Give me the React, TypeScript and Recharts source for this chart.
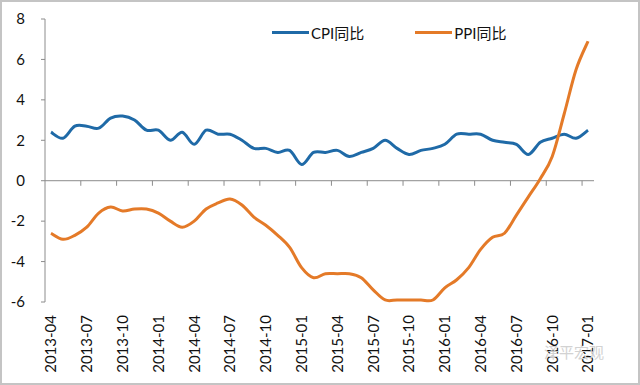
import { LineChart, Line, XAxis, YAxis, ReferenceLine } from 'recharts'

const months = [
  '2013-04', '2013-05', '2013-06', '2013-07', '2013-08', '2013-09', '2013-10', '2013-11', '2013-12',
  '2014-01', '2014-02', '2014-03', '2014-04', '2014-05', '2014-06', '2014-07', '2014-08', '2014-09',
  '2014-10', '2014-11', '2014-12', '2015-01', '2015-02', '2015-03', '2015-04', '2015-05', '2015-06',
  '2015-07', '2015-08', '2015-09', '2015-10', '2015-11', '2015-12', '2016-01', '2016-02', '2016-03',
  '2016-04', '2016-05', '2016-06', '2016-07', '2016-08', '2016-09', '2016-10', '2016-11', '2016-12',
  '2017-01',
]

const cpi = [
  2.4, 2.1, 2.7, 2.7, 2.6, 3.1, 3.2, 3.0, 2.5,
  2.5, 2.0, 2.4, 1.8, 2.5, 2.3, 2.3, 2.0, 1.6,
  1.6, 1.4, 1.5, 0.8, 1.4, 1.4, 1.5, 1.2, 1.4,
  1.6, 2.0, 1.6, 1.3, 1.5, 1.6, 1.8, 2.3, 2.3,
  2.3, 2.0, 1.9, 1.8, 1.3, 1.9, 2.1, 2.3, 2.1,
  2.5,
]

const ppi = [
  -2.6, -2.9, -2.7, -2.3, -1.6, -1.3, -1.5, -1.4, -1.4,
  -1.6, -2.0, -2.3, -2.0, -1.4, -1.1, -0.9, -1.2, -1.8,
  -2.2, -2.7, -3.3, -4.3, -4.8, -4.6, -4.6, -4.6, -4.8,
  -5.4, -5.9, -5.9, -5.9, -5.9, -5.9, -5.3, -4.9, -4.3,
  -3.4, -2.8, -2.6, -1.7, -0.8, 0.1, 1.2, 3.3, 5.5,
  6.9,
]

const yTicks = [-6, -4, -2, 0, 2, 4, 6, 8]

const series = [
  { key: 'cpi', name: 'CPI同比', color: '#1f6aa7' },
  { key: 'ppi', name: 'PPI同比', color: '#e47a28' },
]

const data = months.map((m, i) => ({ i, month: m, cpi: cpi[i], ppi: ppi[i] }))
const labelTicks = months.map((_, i) => i).filter((i) => i % 3 === 0)
const markTicks = months.map((_, i) => i).filter((i) => i > 0 && i % 3 === 0).map((i) => i - 0.5)

const FONT = "Lato, 'Noto Sans CJK SC', sans-serif"

// spreadsheet-style smoothed line (Catmull-Rom through every point)
const smoothCurve = (ctx: any) => {
  let pts: number[][] = []
  return {
    areaStart() {},
    areaEnd() {},
    lineStart() {
      pts = []
    },
    point(x: number, y: number) {
      pts.push([+x, +y])
    },
    lineEnd() {
      if (!pts.length) return
      ctx.moveTo(pts[0][0], pts[0][1])
      for (let i = 0; i < pts.length - 1; i++) {
        const p0 = pts[i - 1] || pts[i]
        const p1 = pts[i]
        const p2 = pts[i + 1]
        const p3 = pts[i + 2] || p2
        ctx.bezierCurveTo(
          p1[0] + (p2[0] - p0[0]) / 6,
          p1[1] + (p2[1] - p0[1]) / 6,
          p2[0] - (p3[0] - p1[0]) / 6,
          p2[1] - (p3[1] - p1[1]) / 6,
          p2[0],
          p2[1],
        )
      }
    },
  }
}

const MonthTick = (props: any) => {
  const { x, y, payload } = props
  return (
    <g transform={`translate(${x},${y})`}>
      <text
        transform="rotate(-90)"
        x={-5}
        y={0}
        dy="0.36em"
        textAnchor="end"
        fontSize={15}
        fontFamily={FONT}
        fill="#111"
      >
        {months[payload.value]}
      </text>
    </g>
  )
}

export default function App() {
  return (
    <div style={{ position: 'absolute', left: 0, top: 0, width: 640, height: 385, background: '#fff', fontFamily: FONT }}>
      <LineChart width={640} height={385} data={data} margin={{ top: 19, right: 46, bottom: 5, left: 0 }}>
        <XAxis
          type="number"
          dataKey="i"
          domain={[-0.5, 45.5]}
          ticks={labelTicks}
          interval={0}
          axisLine={false}
          tickLine={false}
          tick={<MonthTick />}
          height={78}
        />
        <YAxis
          domain={[-6, 8]}
          ticks={yTicks}
          width={45}
          axisLine={{ stroke: '#8c8c8c' }}
          tickLine={{ stroke: '#8c8c8c' }}
          tickSize={4}
          tickMargin={16}
          tick={{ fill: '#111', fontSize: 15, fontFamily: FONT }}
        />
        <ReferenceLine y={0} stroke="#8c8c8c" strokeWidth={1} />
        {markTicks.map((m) => (
          <ReferenceLine
            key={m}
            segment={[{ x: m, y: 0 }, { x: m, y: -0.25 }]}
            stroke="#8c8c8c"
            ifOverflow="visible"
          />
        ))}
        {series.map((s) => (
          <Line
            key={s.key}
            type={smoothCurve as any}
            dataKey={s.key}
            name={s.name}
            stroke={s.color}
            strokeWidth={3}
            dot={false}
            isAnimationActive={false}
          />
        ))}
      </LineChart>

      {/* legend */}
      <div style={{ position: 'absolute', top: 22, left: 272, display: 'flex', alignItems: 'center', fontSize: 15, color: '#111' }}>
        {series.map((s, idx) => (
          <div key={s.key} style={{ display: 'flex', alignItems: 'center', marginLeft: idx ? 51 : 0 }}>
            <span style={{ display: 'inline-block', width: 37, height: 3, background: s.color, marginRight: 2 }} />
            <span>{s.name}</span>
          </div>
        ))}
      </div>

      {/* watermark */}
      <div style={{ position: 'absolute', left: 544, top: 341, fontSize: 15, color: '#d2d2d2' }}>泽平宏观</div>

      <div style={{ position: 'absolute', left: 0, top: 0, width: 640, height: 385, boxSizing: 'border-box', border: '2px solid #c4c4c4', pointerEvents: 'none' }} />
    </div>
  )
}
